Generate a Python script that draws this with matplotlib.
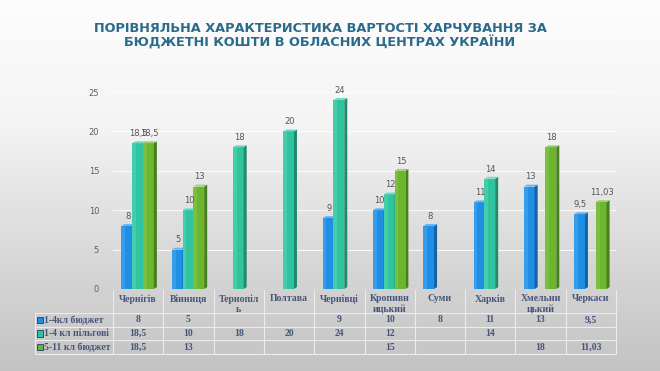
import numpy as np
import matplotlib
matplotlib.use("Agg")
import matplotlib.pyplot as plt
from matplotlib.patches import Polygon, Rectangle
from matplotlib.colors import LinearSegmentedColormap

# ---------------- data ----------------
cities = ["Чернігів", "Вінниця", "Тернопіль", "Полтава", "Чернівці",
          "Кропивницький", "Суми", "Харків", "Хмельницький", "Черкаси"]
table_headers = ["Чернігів", "Вінниця", "Тернопіл\nь", "Полтава", "Чернівці",
                 "Кропивн\nицький", "Суми", "Харків", "Хмельни\nцький", "Черкаси"]
series_names = ["1-4кл бюджет", "1-4 кл пільгові", "5-11 кл бюджет"]
budget_1_4 = [8, 5, np.nan, np.nan, 9, 10, 8, 11, 13, 9.5]
benefit_1_4 = [18.5, 10, 18, 20, 24, 12, np.nan, 14, np.nan, np.nan]
budget_5_11 = [18.5, 13, np.nan, np.nan, np.nan, 15, np.nan, np.nan, 18, 11.03]
yticks = [0, 5, 10, 15, 20, 25]
title = "ПОРІВНЯЛЬНА ХАРАКТЕРИСТИКА ВАРТОСТІ ХАРЧУВАННЯ ЗА\nБЮДЖЕТНІ КОШТИ В ОБЛАСНИХ ЦЕНТРАХ УКРАЇНИ"

series = [budget_1_4, benefit_1_4, budget_5_11]
front = ["#1f8fe6", "#2fc49f", "#6cb52e"]
frontL = ["#48a8f0", "#52d4b2", "#86c64a"]
side = ["#1262a8", "#1f8a6e", "#46801a"]
topc = ["#63b4f0", "#6fdcc0", "#9bd266"]

W, H = 660, 371
fig = plt.figure(figsize=(W / 100, H / 100), dpi=100)

# background gradient
bg = fig.add_axes([0, 0, 1, 1], zorder=-10)
grad = np.linspace(0, 1, 256)[:, None]
cmap = LinearSegmentedColormap.from_list("bg", ["#fdfdfd", "#f4f4f4", "#dadada", "#c3c3c3"])
bg.imshow(grad, aspect="auto", cmap=cmap, extent=[0, 1, 0, 1])
bg.axis("off")

# pixel overlay for title & table
ov = fig.add_axes([0, 0, 1, 1], zorder=5)
ov.set_xlim(0, W)
ov.set_ylim(H, 0)
ov.axis("off")
ov.patch.set_alpha(0)

ov.text(320, 36, title, ha="center", va="center", fontsize=9.3, color="#2a6a8a",
        family="DejaVu Sans", fontweight="bold", linespacing=1.1)

# main axes
x0, x1 = 113, 616
yb, yt = 289, 92
ax = fig.add_axes([x0 / W, 1 - yb / H, (x1 - x0) / W, (yb - yt) / H])
ax.set_xlim(-0.5, len(cities) - 0.5)
ax.set_ylim(0, 25)
ax.patch.set_alpha(0)
for s in ax.spines.values():
    s.set_visible(False)
ax.set_xticks([])
ax.set_yticks(yticks)
ax.tick_params(axis="y", length=0, pad=10, labelsize=6, labelcolor="#5f5f5f")
for yv in yticks[1:]:
    ax.axhline(yv, color="white", lw=0.8, alpha=0.8, zorder=0)
ax.axhline(0, color="#e8e8e8", lw=0.8, zorder=0)

bw = 0.215
dx = 0.06
dy = 0.4
xs = np.arange(len(cities))
for si, vals in enumerate(series):
    for i, v in enumerate(vals):
        if np.isnan(v):
            continue
        xl = xs[i] + (si - 1) * bw - bw / 2 - 0.01
        ax.add_patch(Rectangle((xl, 0), bw, v, facecolor=front[si], edgecolor="none", zorder=3))
        ax.add_patch(Rectangle((xl, 0), bw * 0.35, v, facecolor=frontL[si], edgecolor="none",
                               alpha=0.6, zorder=3))
        ax.add_patch(Polygon([(xl + bw, 0), (xl + bw + dx, dy * 0.6), (xl + bw + dx, v + dy * 0.6),
                              (xl + bw, v)], closed=True, facecolor=side[si], edgecolor="none", zorder=3))
        ax.add_patch(Polygon([(xl, v), (xl + bw, v), (xl + bw + dx, v + dy * 0.6),
                              (xl + dx, v + dy * 0.6)], closed=True, facecolor=topc[si],
                             edgecolor="none", zorder=3))
        lab = f"{v:g}".replace(".", ",")
        ax.text(xl + bw / 2 + 0.02, v + 0.65, lab, ha="center", va="bottom", fontsize=6,
                color="#555555", zorder=4)

# table
colw = (x1 - x0) / len(cities)
rows_y = [290, 313, 327, 340, 354]
lc = "#ececec"
tfont = dict(family="Liberation Serif", fontweight="bold", color="#45557a", fontsize=7)
for k in range(len(cities) + 1):
    xx = x0 + k * colw
    ov.plot([xx, xx], [rows_y[0], rows_y[-1]], color=lc, lw=0.8)
ov.plot([35, 35], [rows_y[1], rows_y[-1]], color=lc, lw=0.8)
for r, yy in enumerate(rows_y):
    if r == 0:
        continue
    ov.plot([35, x1], [yy, yy], color=lc, lw=0.8)
for i, h in enumerate(table_headers):
    cx = x0 + (i + 0.5) * colw
    ov.text(cx, 294, h, ha="center", va="top", linespacing=1.15, **tfont)
for si, vals in enumerate(series):
    cy = (rows_y[si + 1] + rows_y[si + 2]) / 2
    ov.add_patch(Rectangle((36.5, cy - 3.5), 6.5, 6.5, facecolor=front[si], edgecolor="#20406a", lw=0.6))
    ov.text(44, cy, series_names[si], ha="left", va="center", **tfont)
    for i, v in enumerate(vals):
        if np.isnan(v):
            continue
        cx = x0 + (i + 0.5) * colw
        ov.text(cx, cy, f"{v:g}".replace(".", ","), ha="center", va="center", **tfont)

fig.savefig("out.png", dpi=100)
